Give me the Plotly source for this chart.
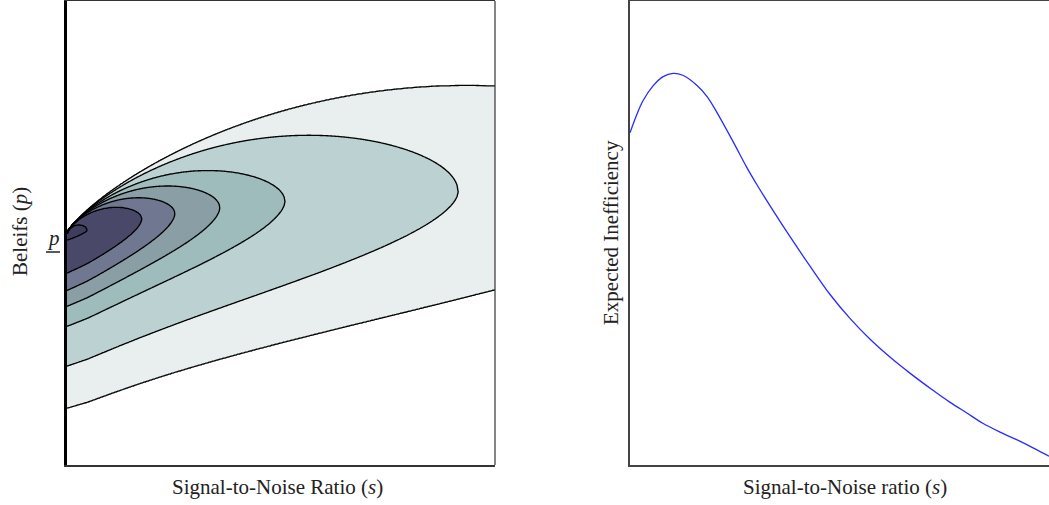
import numpy as np
import plotly.graph_objects as go

# ---------------- data ----------------
# Left panel: seven nested level curves of the inefficiency surface (outermost first)
contour_level = [1, 2, 3, 4, 5, 6, 7]
tip_s = [1.59, 0.914, 0.509, 0.357, 0.252, 0.175, 0.047]     # s at the nose of each level curve
tip_p = [0.608, 0.584, 0.562, 0.554, 0.543, 0.532, 0.506]    # p at the nose
edge_p = [0.123, 0.213, 0.299, 0.342, 0.376, 0.413, 0.484]   # p where the lower branch meets s = 0
p_bar = 0.50                                                  # belief threshold (tick p)
band_colors = ["#ffffff", "#e8efee", "#bcd2d2", "#9fbcbd", "#8a9ea5",
               "#6f7890", "#4a4868", "#3f3c5c"]

# Right panel: expected inefficiency vs signal-to-noise ratio
snr = [0.000, 0.017, 0.031, 0.055, 0.079, 0.103, 0.126, 0.160, 0.184, 0.208,
       0.246, 0.279, 0.303, 0.334, 0.382, 0.430, 0.477, 0.525, 0.573, 0.621,
       0.668, 0.723, 0.764, 0.804, 0.842, 0.883, 0.924, 0.962, 1.000]
ineff = [0.716, 0.757, 0.785, 0.817, 0.837, 0.844, 0.840, 0.818, 0.794, 0.759,
         0.697, 0.641, 0.604, 0.559, 0.492, 0.428, 0.368, 0.316, 0.271, 0.232,
         0.198, 0.161, 0.135, 0.112, 0.090, 0.071, 0.054, 0.037, 0.019]

# ---------------- surface through the read level curves ----------------
q_low = 0.575                    # shape of the lower branches
env_coef, env_pow = 0.585, 0.8   # envelope that all upper branches hug near (0, p_bar)

tau_n = np.array([1e-5] + tip_s[::-1] + [5.0, 50.0])
D_in = [p_bar - e for e in edge_p[::-1]]
D_n = np.array([D_in[0] * 1e-5 / tip_s[-1]] + D_in + [0.66, 2.0])
k_n = np.array([8.0] + contour_level[::-1] + [0.5, 0.0], dtype=float)
lt = np.log(tau_n)

# smooth ridge (nose height) through the read noses: quadratic in log-log
ridge_fit = np.polyfit(np.log(tip_s), np.log(np.array(tip_p) - p_bar), 2)


def mu_of(t):
    val = np.exp(np.polyval(ridge_fit, np.log(t)))
    t0 = tip_s[-1]
    v0 = np.exp(np.polyval(ridge_fit, np.log(t0)))
    return np.where(t < t0, v0 * t / t0, val)


def D_of(t):
    return np.exp(np.interp(np.log(t), lt, np.log(D_n)))


def k_of(t):
    return np.interp(np.log(t), lt, k_n)


s_grid = np.linspace(0, 1, 430)
p_grid = np.linspace(0, 1, 466)
Yrel = p_grid - p_bar
Z = np.zeros((len(p_grid), len(s_grid)))
for j, s in enumerate(s_grid):
    sc = max(s, 1e-7)
    taus = np.geomspace(sc * (1 + 1e-6), 60.0, 1400)
    xi = sc / taus
    w = np.sqrt(1 - xi) * (1 - 0.4 * xi)
    m = float(mu_of(sc))
    B = env_coef * sc ** env_pow
    up = B * w + m * (1 - w)
    lo = m - D_of(taus) * (1 - xi) ** q_low
    kk = k_of(taus)
    k0 = float(k_of(sc))
    above = Yrel >= m
    Z[above, j] = np.interp(Yrel[above], up, kk, left=k0, right=0.0)
    Z[~above, j] = np.interp(Yrel[~above], lo[::-1], kk[::-1], left=0.0, right=k0)

n = len(band_colors) - 1
colorscale = [[i / n, c] for i, c in enumerate(band_colors)]

fig = go.Figure()
fig.add_trace(go.Contour(
    x=s_grid, y=p_grid, z=Z, xaxis="x", yaxis="y",
    autocontour=False,
    contours=dict(start=1, end=7, size=1, coloring="fill", showlines=True),
    colorscale=colorscale, showscale=False,
    line=dict(color="black", width=1.35, smoothing=0.6),
    hoverinfo="skip"))

fig.add_trace(go.Scatter(
    x=snr, y=ineff, xaxis="x2", yaxis="y2", mode="lines",
    line=dict(color="#2a2aff", width=1.3, shape="spline", smoothing=1.0),
    hoverinfo="skip"))

W, H = 1049, 505


def px(x):
    return x / W


def py(y):
    return 1 - y / H


ydom = [py(465), py(1)]
axis_common = dict(showgrid=False, zeroline=False, ticks="", showticklabels=False,
                   range=[0, 1], fixedrange=True)

font = "Liberation Serif, Times New Roman, serif"
fig.update_layout(
    width=W, height=H, margin=dict(l=0, r=0, t=0, b=0),
    paper_bgcolor="white", plot_bgcolor="white", showlegend=False,
    xaxis=dict(domain=[px(67), px(495)], anchor="y", showline=True, linecolor="#333",
               linewidth=1.5, mirror=True, **axis_common),
    yaxis=dict(domain=ydom, anchor="x", showline=True, linecolor="black",
               linewidth=2.5, **axis_common),
    xaxis2=dict(domain=[px(630), 1.0], anchor="y2", showline=True, linecolor="#444",
                linewidth=1.5, mirror=True, **axis_common),
    yaxis2=dict(domain=ydom, anchor="x2", showline=True, linecolor="#444",
                linewidth=1.5, **axis_common),
    font=dict(family=font, size=21, color="#222"),
)

ann = [
    dict(text="Beleifs (<i>p</i>)", x=px(20), y=py(232), textangle=-90),
    dict(text="<i>p</i>", x=px(53), y=py(238)),
    dict(text="Signal-to-Noise Ratio (<i>s</i>)", x=px(277), y=py(487)),
    dict(text="Expected Inefficiency", x=px(611), y=py(233), textangle=-90),
    dict(text="Signal-to-Noise ratio (<i>s</i>)", x=px(845), y=py(487)),
]
for a in ann:
    fig.add_annotation(xref="paper", yref="paper", showarrow=False,
                       xanchor="center", yanchor="middle",
                       font=dict(family=font, size=21, color="#222"), **a)

# right frame edge of the contour panel and the bar under the p tick
fig.add_shape(type="line", xref="paper", yref="paper", x0=px(495), x1=px(495),
              y0=ydom[0], y1=ydom[1], line=dict(color="#333", width=1.2))
fig.add_shape(type="line", xref="paper", yref="paper", x0=px(46), x1=px(60),
              y0=py(252), y1=py(252), line=dict(color="#222", width=1.5))

fig.write_html("out.html",
               config={"displayModeBar": False},
               post_script="document.body.style.margin='0px';"
                           "document.body.style.overflow='hidden';")
